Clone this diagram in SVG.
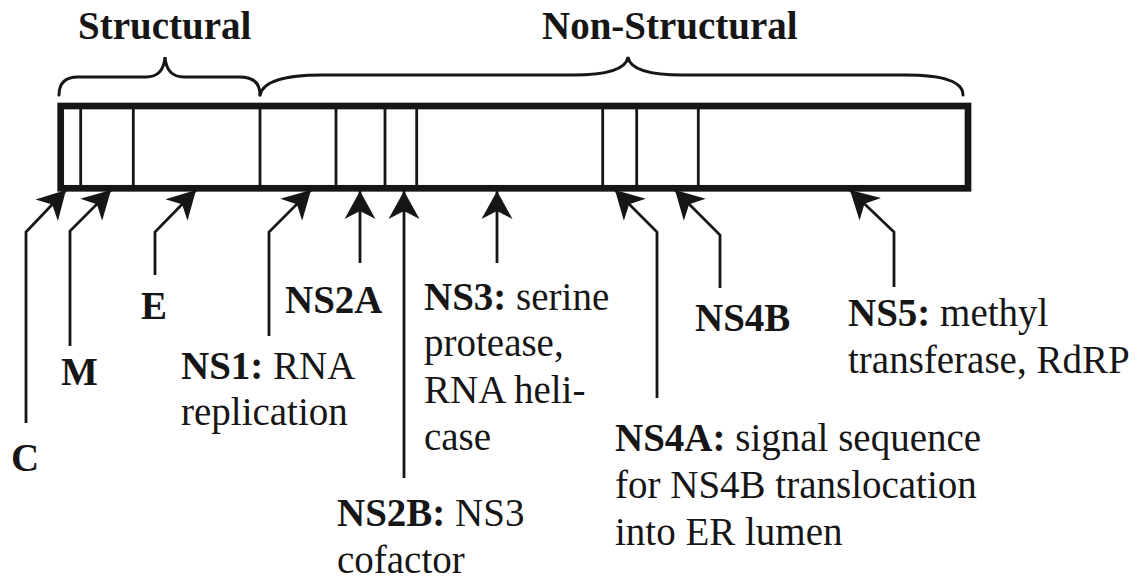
<svg xmlns="http://www.w3.org/2000/svg" width="1147" height="582" viewBox="0 0 1147 582">
<style>
text{font-family:"Liberation Serif","Times New Roman",serif;font-size:39px;fill:#161616}
.b{font-weight:bold}
.bar{fill:#fff;stroke:#161616;stroke-width:6.7}
.div{stroke:#161616;stroke-width:2.8}
.brace{fill:none;stroke:#161616;stroke-width:3;stroke-linecap:round}
.arr{fill:none;stroke:#161616;stroke-width:2.8;marker-end:url(#ah)}
</style>
<defs>
<marker id="ah" markerUnits="userSpaceOnUse" markerWidth="40" markerHeight="40" viewBox="-30 -20 40 40" refX="0" refY="0" orient="auto">
<path d="M0,0 L-28,-15.5 L-20,0 L-28,15.5 Z" fill="#161616"/>
</marker>
</defs>
<g id="headers">
<g id="structural"><text class="b" x="78" y="39">Structural</text>
<path class="brace" d="M59,95 C59,83 65,77 78,77 L146,77 C157,77 164,71 165,57 C166,71 173,77 184,77 L240,77 C253,77 260,83 260,95"/></g>
<g id="nonstructural"><text class="b" x="542" y="39">Non-Structural</text>
<path class="brace" d="M260,95 C263,81 286,75 322,75 L573,75 C605,75 626,70 628,57 C630,70 651,75 683,75 L905,75 C945,75 963,82 963,95"/></g>
</g>
<g id="genome">
<rect class="bar" x="60.7" y="106" width="907.3" height="82.3"/>
<line class="div" x1="80.7" y1="106" x2="80.7" y2="188"/>
<line class="div" x1="133.3" y1="106" x2="133.3" y2="188"/>
<line class="div" x1="260" y1="106" x2="260" y2="188"/>
<line class="div" x1="336" y1="106" x2="336" y2="188"/>
<line class="div" x1="385" y1="106" x2="385" y2="188"/>
<line class="div" x1="416.7" y1="106" x2="416.7" y2="188"/>
<line class="div" x1="602.7" y1="106" x2="602.7" y2="188"/>
<line class="div" x1="636.7" y1="106" x2="636.7" y2="188"/>
<line class="div" x1="698.3" y1="106" x2="698.3" y2="188"/>
</g>
<g id="connectors">
<path class="arr" d="M26,423 L26,232 L66,190"/>
<path class="arr" d="M70,346 L70,231 L111,190"/>
<path class="arr" d="M155,275 L155,232 L196,190"/>
<path class="arr" d="M269,336 L269,232 L311,190"/>
<path class="arr" d="M360,263 L360,191"/>
<path class="arr" d="M404,478 L404,191"/>
<path class="arr" d="M497,263 L497,191"/>
<path class="arr" d="M657,398 L657,232 L615,190"/>
<path class="arr" d="M720,288 L720,235 L675,190"/>
<path class="arr" d="M894,287 L894,232 L850,190"/>
</g>
<g id="C"><text class="b" x="11" y="471">C</text></g>
<g id="M"><text class="b" x="61" y="385">M</text></g>
<g id="E"><text class="b" x="141" y="319">E</text></g>
<g id="NS1"><text x="181" y="379"><tspan class="b">NS1:</tspan> RNA</text><text x="181" y="425">replication</text></g>
<g id="NS2A"><text class="b" x="285" y="313">NS2A</text></g>
<g id="NS2B"><text x="337" y="526"><tspan class="b">NS2B:</tspan> NS3</text><text x="337" y="573">cofactor</text></g>
<g id="NS3"><text x="424" y="310"><tspan class="b">NS3:</tspan> serine</text><text x="424" y="356">protease,</text><text x="424" y="403">RNA heli-</text><text x="424" y="450">case</text></g>
<g id="NS4A"><text x="615" y="451"><tspan class="b">NS4A:</tspan> signal sequence</text><text x="615" y="498">for NS4B translocation</text><text x="615" y="545">into ER lumen</text></g>
<g id="NS4B"><text class="b" x="695" y="331">NS4B</text></g>
<g id="NS5"><text x="848" y="326"><tspan class="b">NS5:</tspan> methyl</text><text x="848" y="373">transferase, RdRP</text></g>
</svg>
